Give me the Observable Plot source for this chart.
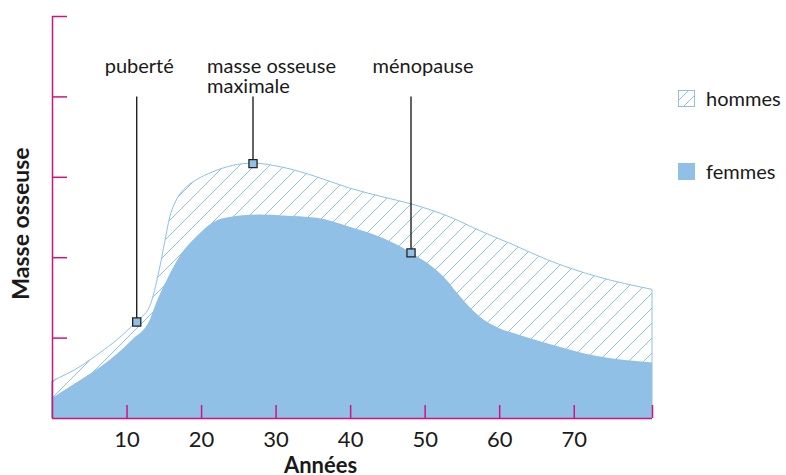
<!DOCTYPE html>
<html><head><meta charset="utf-8">
<script src="https://cdn.jsdelivr.net/npm/d3@7"></script>
<script src="https://cdn.jsdelivr.net/npm/@observablehq/plot@0.6"></script>
<style>
body{margin:0;background:#fff;font-family:Lato,sans-serif;}
#wrap{position:relative;width:786px;height:475px;}
.leg{position:absolute;left:678px;display:flex;align-items:center;height:18px;font-size:20px;color:#1a1a1a;}
.leg .sw{width:17px;height:17px;margin-right:11px;box-sizing:border-box;}
</style></head><body><div id="wrap"></div>
<script>
const xTicks = [10, 20, 30, 40, 50, 60, 70];
const yTicks = [1, 2, 3, 4, 5];
const xMax = 80.5;
const hommesAge   = [0, 4.1, 6.4, 8.8, 11.3, 13.1, 14.4, 15.1, 15.8, 16.4, 17.2, 18.1, 19.5, 21.5, 26.9, 30.9, 35.5, 39.9, 44.4, 48.3, 53.4, 57.4, 62, 66.4, 73.1, 80.5];
const hommesValue = [0.46, 0.66, 0.81, 0.98, 1.20, 1.39, 1.85, 2.18, 2.50, 2.66, 2.79, 2.88, 2.97, 3.06, 3.17, 3.12, 3.00, 2.86, 2.75, 2.66, 2.50, 2.33, 2.15, 1.97, 1.76, 1.60];
const femmesAge   = [0, 4.1, 6.4, 8.6, 10.8, 13.1, 14.0, 15.4, 17.1, 19.4, 21.5, 23.8, 27.8, 30.9, 35.5, 39.9, 44.4, 48.1, 52.9, 54.3, 57.4, 59.7, 61.8, 66.4, 73.1, 80.5];
const femmesValue = [0.25, 0.49, 0.63, 0.79, 0.98, 1.22, 1.44, 1.72, 2.01, 2.26, 2.43, 2.50, 2.53, 2.52, 2.49, 2.38, 2.24, 2.06, 1.72, 1.56, 1.26, 1.13, 1.06, 0.93, 0.77, 0.69];
const eventLabels = ["puberté", "masse osseuse\nmaximale", "ménopause"];
const eventAge    = [11.3, 26.9, 48.1];
const eventValue  = [1.20, 3.17, 2.06];
const legendLabels = ["hommes", "femmes"];
const xLabel = "Années";
const yLabel = "Masse osseuse";

const blue = "#90c0e6";
const axisColor = "#cf1480";
const ink = "#1a1a1a";

const hommes = hommesAge.map((a, i) => ({age: a, v: hommesValue[i]}));
const femmes = femmesAge.map((a, i) => ({age: a, v: femmesValue[i]}));
const events = eventLabels.map((l, i) => ({label: l, age: eventAge[i], v: eventValue[i]}));
const eventText = [
  {textAnchor: "middle", dx: 2.5},
  {textAnchor: "start", dx: -46},
  {textAnchor: "middle", dx: 12}
];

const marks = [
  Plot.areaY(hommes, {x: "age", y: "v", curve: "monotone-x", fill: "url(#hatch)", stroke: blue, strokeWidth: 1}),
  Plot.areaY(femmes, {x: "age", y: "v", curve: "monotone-x", fill: blue}),
  Plot.ruleY([0], {stroke: axisColor, strokeWidth: 1.5}),
  Plot.ruleX([0], {stroke: axisColor, strokeWidth: 1.5}),
  Plot.axisX([...xTicks, xMax], {tickSize: -13, tickFormat: () => "", label: null, stroke: axisColor, strokeWidth: 1.5}),
  Plot.axisX(xTicks, {tickSize: 0, tickPadding: 13, fontSize: 22, fill: ink, label: null, tickFormat: d => String(d)}),
  Plot.axisY(yTicks, {tickSize: -15, tickFormat: () => "", label: null, stroke: axisColor, strokeWidth: 1.5}),
  Plot.ruleX(events, {x: "age", y1: "v", y2: 4, stroke: "#111", strokeWidth: 1.3}),
  Plot.dot(events, {x: "age", y: "v", symbol: "square", r: 4.6, fill: blue, stroke: "#222", strokeWidth: 1.3}),
  Plot.text([xLabel], {frameAnchor: "bottom", textAnchor: "middle", lineAnchor: "top", dy: 39, dx: -32, fontSize: 22, fontWeight: "bold", fill: ink}),
  Plot.text([yLabel], {frameAnchor: "left", textAnchor: "middle", rotate: -90, lineAnchor: "middle", dx: -31, dy: 6, fontSize: 23, fontWeight: "bold", fill: ink})
];
events.forEach((e, i) => {
  marks.push(Plot.text([e], {x: "age", text: "label", frameAnchor: "top", lineAnchor: "top", dy: 42.8, lineHeight: 0.98,
    textAnchor: eventText[i].textAnchor, dx: eventText[i].dx, fontSize: 20, fill: ink}));
});

const chart = Plot.plot({
  width: 786, height: 475,
  marginLeft: 52, marginRight: 134, marginTop: 16, marginBottom: 57,
  style: {fontFamily: "Lato, sans-serif", background: "white", overflow: "visible"},
  x: {domain: [0, xMax], axis: null},
  y: {domain: [0, 5], axis: null},
  marks
});
chart.insertAdjacentHTML("afterbegin",
  `<defs><pattern id="hatch" patternUnits="userSpaceOnUse" width="15" height="15">
     <path d="M-2,2 l4,-4 M0,15 l15,-15 M13,17 l4,-4" stroke="${blue}" stroke-width="1"/>
   </pattern></defs>`);
const wrap = document.getElementById("wrap");
wrap.appendChild(chart);

const swatches = [
  `<svg class="sw" width="17" height="17" viewBox="0 0 17 17"><defs><pattern id="hatchL" patternUnits="userSpaceOnUse" width="11" height="11"><path d="M-2,2 l4,-4 M0,11 l11,-11 M9,13 l4,-4" stroke="${blue}" stroke-width="1"/></pattern></defs><rect x="0.5" y="0.5" width="16" height="16" fill="url(#hatchL)" stroke="${blue}" stroke-width="1"/></svg>`,
  `<div class="sw" style="background:${blue}"></div>`
];
const legTops = [89, 162];
legendLabels.forEach((l, i) => {
  const d = document.createElement("div");
  d.className = "leg";
  d.style.top = legTops[i] + "px";
  d.innerHTML = swatches[i] + `<span>${l}</span>`;
  wrap.appendChild(d);
});
</script></body></html>
